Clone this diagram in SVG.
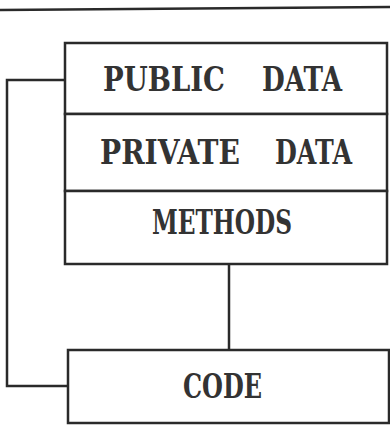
<svg xmlns="http://www.w3.org/2000/svg" width="390" height="426" viewBox="0 0 390 426">
<style>
.box{fill:#fff;stroke:#2a2a2a;stroke-width:2.5}
.ln{fill:none;stroke:#2a2a2a;stroke-width:2.5}
.t{font-family:"DejaVu Serif","Liberation Serif",serif;font-weight:bold;font-size:33px;fill:#333}
</style>
<rect width="390" height="426" fill="#fff"/>
<line class="ln" x1="0" y1="10" x2="390" y2="7"/>
<g id="connectors">
<polyline class="ln" points="66,80 7,80 7,386 68,386"/>
<line class="ln" x1="229" y1="264" x2="229" y2="350"/>
</g>
<g id="public-data">
<rect class="box" x="65" y="43" width="322" height="71"/>
<text class="t" x="103" y="91" textLength="122" lengthAdjust="spacingAndGlyphs">PUBLIC</text>
<text class="t" x="262" y="91" textLength="80" lengthAdjust="spacingAndGlyphs">DATA</text>
</g>
<g id="private-data">
<rect class="box" x="65" y="114" width="322" height="77"/>
<text class="t" x="100" y="164" textLength="140" lengthAdjust="spacingAndGlyphs">PRIVATE</text>
<text class="t" x="275" y="164" textLength="77" lengthAdjust="spacingAndGlyphs">DATA</text>
</g>
<g id="methods">
<rect class="box" x="65" y="191" width="322" height="73"/>
<text class="t" x="152" y="234" textLength="140" lengthAdjust="spacingAndGlyphs">METHODS</text>
</g>
<g id="code">
<rect class="box" x="68" y="350" width="321" height="73"/>
<text class="t" x="183" y="398" textLength="79" lengthAdjust="spacingAndGlyphs">CODE</text>
</g>
</svg>
